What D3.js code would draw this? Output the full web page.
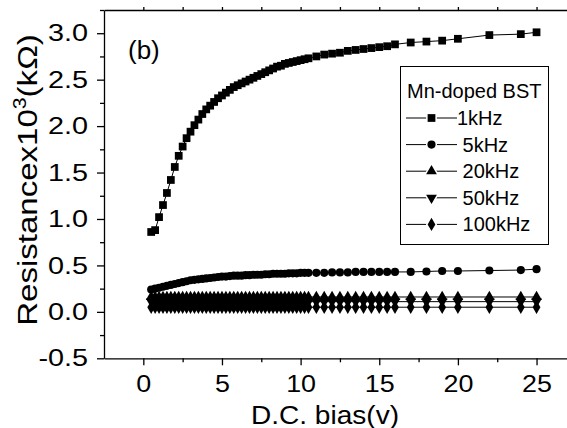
<!DOCTYPE html>
<html>
<head>
<meta charset="utf-8">
<script src="https://cdn.jsdelivr.net/npm/d3@7"></script>
<style>
  body { margin: 0; background: #fff; }
  svg { display: block; font-family: "Liberation Sans", Arial, sans-serif; }
</style>
</head>
<body>
<svg id="chart" width="567" height="428"></svg>
<script>
// --- Data ---
const bias = [0.5, 0.75, 1, 1.25, 1.5, 1.75, 2, 2.25, 2.5, 2.75, 3, 3.25, 3.5, 3.75, 4, 4.25, 4.5, 4.75,
  5, 5.25, 5.5, 5.75, 6, 6.25, 6.5, 6.75, 7, 7.25, 7.5, 7.75, 8, 8.25, 8.5, 8.75, 9, 9.25, 9.5, 9.75,
  10, 10.25, 10.5, 11, 11.5, 12, 12.5, 13, 13.5, 14, 14.5, 15, 15.5, 16, 17, 18, 19, 20, 22, 24, 25];

const r1k = [0.86, 0.88, 1.02, 1.15, 1.28, 1.42, 1.56, 1.68, 1.78, 1.87, 1.94, 2.01, 2.07, 2.13, 2.18, 2.22, 2.26, 2.30,
  2.33, 2.36, 2.39, 2.42, 2.44, 2.46, 2.48, 2.50, 2.52, 2.54, 2.56, 2.58, 2.60, 2.62, 2.64, 2.65, 2.67, 2.68, 2.69, 2.70,
  2.71, 2.72, 2.73, 2.75, 2.77, 2.78, 2.79, 2.81, 2.82, 2.83, 2.84, 2.85, 2.86, 2.88, 2.90, 2.91, 2.92, 2.94, 2.98, 2.99, 3.01];

const r5k = [0.24, 0.25, 0.26, 0.27, 0.28, 0.29, 0.30, 0.31, 0.32, 0.33, 0.34, 0.345, 0.35, 0.355, 0.36, 0.365, 0.37, 0.375,
  0.38, 0.38, 0.385, 0.39, 0.39, 0.39, 0.395, 0.395, 0.40, 0.40, 0.40, 0.405, 0.405, 0.41, 0.41, 0.41, 0.41, 0.415, 0.415, 0.415,
  0.42, 0.42, 0.42, 0.42, 0.42, 0.425, 0.425, 0.425, 0.43, 0.43, 0.43, 0.43, 0.43, 0.43, 0.43, 0.435, 0.44, 0.44, 0.445, 0.45, 0.46];

const r20k = [0.16, 0.16, 0.16, 0.16, 0.16, 0.16, 0.16, 0.16, 0.16, 0.16, 0.16, 0.16, 0.16, 0.16, 0.16, 0.16, 0.16, 0.16,
  0.16, 0.16, 0.16, 0.16, 0.16, 0.16, 0.16, 0.16, 0.16, 0.16, 0.16, 0.16, 0.16, 0.16, 0.16, 0.16, 0.16, 0.16, 0.16, 0.16,
  0.16, 0.16, 0.16, 0.16, 0.16, 0.16, 0.16, 0.16, 0.16, 0.16, 0.16, 0.16, 0.16, 0.16, 0.16, 0.16, 0.16, 0.16, 0.16, 0.16, 0.16];

const r50k = [0.11, 0.11, 0.11, 0.11, 0.11, 0.11, 0.11, 0.11, 0.11, 0.11, 0.11, 0.11, 0.11, 0.11, 0.11, 0.11, 0.11, 0.11,
  0.11, 0.11, 0.11, 0.11, 0.11, 0.11, 0.11, 0.11, 0.11, 0.11, 0.11, 0.11, 0.11, 0.11, 0.11, 0.11, 0.11, 0.11, 0.11, 0.11,
  0.11, 0.11, 0.11, 0.11, 0.11, 0.11, 0.11, 0.11, 0.11, 0.11, 0.11, 0.11, 0.11, 0.11, 0.11, 0.11, 0.11, 0.11, 0.11, 0.11, 0.11];

const r100k = [0.05, 0.05, 0.05, 0.05, 0.05, 0.05, 0.05, 0.05, 0.05, 0.05, 0.05, 0.05, 0.05, 0.05, 0.05, 0.05, 0.05, 0.05,
  0.05, 0.05, 0.05, 0.05, 0.05, 0.05, 0.05, 0.05, 0.05, 0.05, 0.05, 0.05, 0.05, 0.05, 0.05, 0.05, 0.05, 0.05, 0.05, 0.05,
  0.05, 0.05, 0.05, 0.05, 0.05, 0.05, 0.05, 0.05, 0.05, 0.05, 0.05, 0.05, 0.05, 0.05, 0.05, 0.05, 0.05, 0.05, 0.05, 0.05, 0.05];

const seriesNames = ["1kHz", " 5kHz", " 20kHz", " 50kHz", " 100kHz"];
const xTicks = [0, 5, 10, 15, 20, 25];
const xMinor = [2.5, 7.5, 12.5, 17.5, 22.5];
const yTicks = [-0.5, 0.0, 0.5, 1.0, 1.5, 2.0, 2.5, 3.0];
const yMinor = [-0.25, 0.25, 0.75, 1.25, 1.75, 2.25, 2.75, 3.25];

// --- Layout ---
const plotLeft = 104, plotRight = 568, plotTop = 10, plotBottom = 358.3;
const svg = d3.select("#chart");

const x = d3.scaleLinear().domain([-2.5, 27]).range([plotLeft, plotRight]);
const y = d3.scaleLinear().domain([-0.5, 3.25]).range([plotBottom, plotTop]);

// --- Axes ---
const axisStyle = g => {
  g.selectAll("path, line").attr("stroke", "#000").attr("stroke-width", 1.3);
  g.selectAll("text").attr("fill", "#000").style("font-family", "Liberation Sans, Arial, sans-serif");
};

// tick labels of the source are set a bit wider than Arial
const yLab = 1.2, xLab = 1.12;

svg.append("g")
  .attr("transform", `translate(${plotLeft},0)`)
  .call(d3.axisLeft(y).tickValues(yTicks).tickSize(7).tickSizeOuter(0).tickPadding(9)
    .tickFormat(d => d.toFixed(1)))
  .call(axisStyle)
  .call(g => g.selectAll(".tick text")
    .style("font-size", "24px")
    .attr("x", -16 / yLab)
    .attr("transform", `scale(${yLab},1)`));

svg.append("g")
  .attr("transform", `translate(${plotLeft},0)`)
  .call(d3.axisLeft(y).tickValues(yMinor).tickSize(4).tickFormat(""))
  .call(axisStyle)
  .call(g => g.select(".domain").remove());

svg.append("g")
  .attr("transform", `translate(0,${plotBottom})`)
  .call(d3.axisBottom(x).tickValues(xTicks).tickSize(7).tickSizeOuter(0).tickPadding(10))
  .call(axisStyle)
  .call(g => g.selectAll(".tick text")
    .style("font-size", "24px")
    .attr("transform", `scale(${xLab},1)`));

svg.append("g")
  .attr("transform", `translate(0,${plotBottom})`)
  .call(d3.axisBottom(x).tickValues(xMinor).tickSize(4).tickFormat(""))
  .call(axisStyle)
  .call(g => g.select(".domain").remove());

// top frame with small outward ticks
svg.append("g")
  .attr("transform", `translate(0,${plotTop})`)
  .call(d3.axisTop(x).tickValues(xTicks.concat(xMinor)).tickSize(3).tickSizeOuter(0).tickFormat(""))
  .call(axisStyle);

// --- Axis titles ---
svg.append("text")
  .attr("transform", "translate(325,424) scale(1.08,1)")
  .attr("text-anchor", "middle")
  .style("font-size", "26px")
  .text("D.C. bias(v)");

const yTitle = svg.append("text")
  .attr("transform", "translate(37,180) rotate(-90) scale(1.18,1)")
  .attr("text-anchor", "middle")
  .style("font-size", "28px");
yTitle.append("tspan").text("Resistancex10");
yTitle.append("tspan").attr("dy", -11).style("font-size", "18px").text("3");
yTitle.append("tspan").attr("dy", 11).text("(kΩ)");

svg.append("text")
  .attr("x", 128).attr("y", 59)
  .style("font-size", "26px")
  .text("(b)");

// --- Markers ---
const shapes = [
  d3.symbol().type(d3.symbolSquare).size(60),
  d3.symbol().type(d3.symbolCircle).size(52),
  d3.symbol().type(d3.symbolTriangle).size(50),
  d3.symbol().type(d3.symbolTriangle).size(50),
  d3.symbol().type(d3.symbolDiamond).size(52)
];
const rotations = [0, 0, 0, 180, 0];
const series = [r1k, r5k, r20k, r50k, r100k];

const line = d3.line().x(d => x(d[0])).y(d => y(d[1]));

series.forEach((vals, i) => {
  const pts = bias.map((b, j) => [b, vals[j]]);
  svg.append("path")
    .datum(pts)
    .attr("d", line)
    .attr("fill", "none")
    .attr("stroke", "#000")
    .attr("stroke-width", 1);
  svg.append("g").selectAll("path")
    .data(pts)
    .enter()
    .append("path")
    .attr("d", shapes[i])
    .attr("transform", d => `translate(${x(d[0])},${y(d[1])}) rotate(${rotations[i]})`)
    .attr("fill", "#000");
});

// --- Legend ---
const legend = svg.append("g");
legend.append("rect")
  .attr("x", 400.5).attr("y", 66.5)
  .attr("width", 148).attr("height", 178)
  .attr("fill", "#fff").attr("stroke", "#000").attr("stroke-width", 1);

legend.append("text")
  .attr("x", 407).attr("y", 98)
  .style("font-size", "20px")
  .text("Mn-doped BST");

seriesNames.forEach((name, i) => {
  const cy = 118 + i * 26.6;
  legend.append("line")
    .attr("x1", 406).attr("x2", 457).attr("y1", cy).attr("y2", cy)
    .attr("stroke", "#000").attr("stroke-width", 1);
  legend.append("path")
    .attr("d", shapes[i])
    .attr("transform", `translate(431.5,${cy}) rotate(${rotations[i]})`)
    .attr("fill", "#000")
    .attr("stroke", "#fff").attr("stroke-width", 3).attr("paint-order", "stroke");
  legend.append("text")
    .attr("x", 457).attr("y", cy + 7)
    .attr("xml:space", "preserve")
    .style("white-space", "pre")
    .style("font-size", "20px")
    .text(name);
});
</script>
</body>
</html>
